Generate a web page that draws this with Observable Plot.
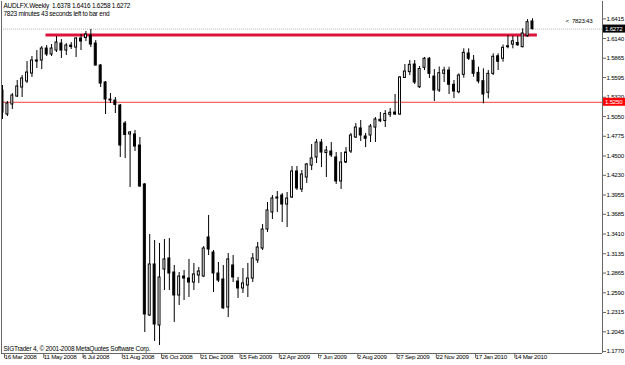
<!DOCTYPE html>
<html><head><meta charset="utf-8">
<script src="https://cdn.jsdelivr.net/npm/d3@7"></script>
<script src="https://cdn.jsdelivr.net/npm/@observablehq/plot@0.6"></script>
<style>body{margin:0;background:#fff}svg text{white-space:pre;letter-spacing:-0.25px}svg text.big{letter-spacing:-0.1px}</style>
</head><body><div id="chart"></div>
<script>
// ---- data (weekly bars, first bar = week of 16 Mar 2008) ----
const symbol = "AUDLFX.Weekly";
const firstWeek = "2008-03-16";
const open = [1.5414,1.5079,1.5219,1.5330,1.5456,1.5540,1.5651,1.5819,1.5833,1.6000,
1.5917,1.5972,1.6070,1.5972,1.6042,1.6014,1.6140,1.6147,1.6182,1.6070,
1.5763,1.5526,1.5288,1.5274,1.5205,1.4953,1.4800,1.4800,1.4646,1.4102,
1.2273,1.2985,1.2133,1.2915,1.3069,1.2873,1.2552,1.2817,1.2789,1.2733,
1.2831,1.2817,1.3362,1.3152,1.2859,1.2775,1.2384,1.2971,1.2747,1.2650,
1.2692,1.2789,1.3041,1.3208,1.3473,1.3711,1.3906,1.3948,1.3822,1.3920,
1.4283,1.4032,1.4199,1.4367,1.4479,1.4688,1.4541,1.4562,1.4479,1.4144,
1.4409,1.4562,1.4758,1.4884,1.4772,1.4786,1.4897,1.5005,1.4988,1.5075,
1.5107,1.5079,1.5589,1.5670,1.5777,1.5460,1.5731,1.5857,1.5609,1.5414,
1.5647,1.5693,1.5494,1.5390,1.5633,1.5931,1.5829,1.5661,1.5544,1.5382,
1.5647,1.5892,1.5857,1.6032,1.6056,1.6077,1.6019,1.6172,1.6378];
const high = [1.5484,1.5260,1.5372,1.5554,1.5623,1.5819,1.5889,1.5972,1.6028,1.6042,
1.6056,1.6168,1.6126,1.6070,1.6084,1.6154,1.6196,1.6238,1.6266,1.6112,
1.5777,1.5540,1.5372,1.5316,1.5219,1.4981,1.4842,1.4856,1.4758,1.4116,
1.3404,1.3320,1.3278,1.3334,1.3348,1.2971,1.2873,1.2901,1.3055,1.2999,
1.2943,1.3236,1.3669,1.3180,1.3013,1.2971,1.3138,1.3110,1.2803,1.2929,
1.2999,1.3138,1.3292,1.3543,1.3850,1.3948,1.4004,1.3976,1.3990,1.4353,
1.4353,1.4297,1.4395,1.4660,1.4730,1.4730,1.4632,1.4688,1.4548,1.4548,
1.4618,1.4814,1.4953,1.4995,1.4814,1.4939,1.5037,1.5107,1.5135,1.5163,
1.5358,1.5609,1.5777,1.5833,1.5833,1.5749,1.5875,1.5875,1.5707,1.5742,
1.5739,1.5739,1.5554,1.5647,1.5996,1.5996,1.5903,1.5739,1.5717,1.5693,
1.5926,1.5926,1.6049,1.6182,1.6172,1.6171,1.6275,1.6405,1.6416];
const low = [1.5009,1.5051,1.5149,1.5316,1.5316,1.5512,1.5596,1.5721,1.5707,1.5889,
1.5889,1.5945,1.5861,1.5903,1.5986,1.5875,1.5972,1.6098,1.6014,1.5756,
1.5456,1.5079,1.5233,1.5093,1.4479,1.4465,1.4060,1.4562,1.4060,1.2035,
1.2259,1.1910,1.1854,1.2622,1.2622,1.2175,1.2412,1.2482,1.2524,1.2622,
1.2720,1.2803,1.3110,1.2594,1.2733,1.2360,1.2245,1.2733,1.2510,1.2580,
1.2524,1.2733,1.2999,1.3180,1.3432,1.3613,1.3711,1.3571,1.3501,1.3906,
1.4018,1.3990,1.4116,1.4297,1.4395,1.4339,1.4199,1.4479,1.4102,1.4032,
1.4395,1.4534,1.4744,1.4702,1.4618,1.4688,1.4688,1.4967,1.4897,1.5037,
1.5065,1.5065,1.5582,1.5623,1.5498,1.5442,1.5693,1.5582,1.5260,1.5386,
1.5526,1.5358,1.5302,1.5368,1.5586,1.5833,1.5600,1.5508,1.5228,1.5298,
1.5623,1.5693,1.5809,1.5996,1.5996,1.6031,1.6010,1.6158,1.6258];
const close = [1.5107,1.5233,1.5344,1.5470,1.5582,1.5665,1.5833,1.5833,1.6000,1.5917,
1.6000,1.6084,1.5972,1.6042,1.6021,1.6140,1.6098,1.6196,1.6056,1.5763,
1.5512,1.5288,1.5274,1.5212,1.4646,1.4793,1.4828,1.4632,1.4074,1.2287,
1.2985,1.2147,1.2803,1.3055,1.2859,1.2552,1.2817,1.2789,1.2733,1.2845,
1.2887,1.3208,1.3194,1.2859,1.2761,1.2371,1.3055,1.2803,1.2650,1.2720,
1.2789,1.3069,1.3222,1.3473,1.3739,1.3906,1.3920,1.3822,1.3906,1.4283,
1.4046,1.4241,1.4381,1.4465,1.4688,1.4548,1.4576,1.4507,1.4144,1.4409,
1.4548,1.4786,1.4897,1.4786,1.4740,1.4911,1.5009,1.4985,1.5086,1.5103,
1.5079,1.5596,1.5679,1.5773,1.5526,1.5714,1.5857,1.5647,1.5414,1.5656,
1.5693,1.5494,1.5400,1.5623,1.5940,1.5857,1.5647,1.5540,1.5358,1.5647,
1.5885,1.5815,1.6010,1.6019,1.6101,1.6046,1.6210,1.6368,1.6272];

const yTicks = [1.6415,1.6140,1.5865,1.5595,1.5320,1.5050,1.4775,1.4500,1.4230,1.3955,
1.3685,1.3410,1.3135,1.2865,1.2590,1.2315,1.2045,1.1770];
const xTickLabels = ["16 Mar 2008","11 May 2008","6 Jul 2008","31 Aug 2008","26 Oct 2008",
"21 Dec 2008","15 Feb 2009","12 Apr 2009","7 Jun 2009","2 Aug 2009","27 Sep 2009",
"22 Nov 2009","17 Jan 2010","14 Mar 2010"];

const bidLevel = 1.6272;          // current price line (gray dotted, black label)
const supportLevel = 1.5250;      // thin red horizontal line (red label)
const trendLevel = 1.6190;        // thick crimson line
const trendFrom = "2008-05-17", trendTo = "2010-04-18";
const headerLine2 = "7823 minutes 43 seconds left to bar end";
const timerText = "<  7823:43";
const copyright = "SIGTrader 4, \u00a9 2001-2008 MetaQuotes Software Corp.";

// ---- build table ----
const WEEK = 7 * 864e5;
const t0 = Date.parse(firstWeek + "T00:00:00Z");
const bars = open.map((o, i) => ({date: new Date(t0 + i * WEEK), open: o, high: high[i], low: low[i], close: close[i]}));
const up = bars.filter(d => d.close >= d.open);
const down = bars.filter(d => d.close < d.open);
const half = 0.2 * WEEK;
const parseTick = d3.utcParse("%d %b %Y");
const xTicks = xTickLabels.map(parseTick);
const fmt = d3.utcFormat("%-d %b %Y");
const xDomain = [new Date(t0 - 0.204 * WEEK), new Date(t0 + 122.27 * WEEK)];
const last = bars[bars.length - 1];
const header = `${symbol}  ${last.open.toFixed(4)} ${last.high.toFixed(4)} ${last.low.toFixed(4)} ${last.close.toFixed(4)}`;
const FONT = "'Liberation Sans', Arial, sans-serif";
const FS = "6.2px";
const big = {fontSize: 6.5, className: "big", textAnchor: "start"};

const plot = Plot.plot({
  width: 625, height: 365,
  marginLeft: 1, marginRight: 23, marginTop: 1, marginBottom: 12,
  x: {type: "utc", domain: xDomain},
  y: {domain: [1.1742, 1.6657]},
  style: {fontFamily: FONT, fontSize: FS, background: "white", color: "black"},
  marks: [
    Plot.ruleY([bidLevel], {stroke: "#b8b8b8", strokeDasharray: "1,1"}),
    Plot.ruleY([supportLevel], {stroke: "#f03c3c", strokeWidth: 1}),
    Plot.ruleY([trendLevel], {x1: () => new Date(trendFrom), x2: () => new Date(trendTo), stroke: "#dc143c", strokeWidth: 3}),
    Plot.ruleX(bars, {x: "date", y1: "low", y2: "high", stroke: "black", strokeWidth: 1, clip: true}),
    Plot.rect(up, {x1: d => new Date(+d.date - half), x2: d => new Date(+d.date + half), y1: "open", y2: "close", fill: "white", stroke: "black", strokeWidth: 1, clip: true}),
    Plot.rect(down, {x1: d => new Date(+d.date - half), x2: d => new Date(+d.date + half), y1: "open", y2: "close", fill: "black", stroke: "black", strokeWidth: 1, clip: true}),
    Plot.ruleX([xDomain[0], xDomain[1]], {stroke: "#666"}),
    Plot.ruleY([1.1742], {stroke: "#666"}),
    Plot.axisY(yTicks, {anchor: "right", tickSize: 3, tickPadding: 1, tickFormat: d => d.toFixed(4), stroke: "#666"}),
    Plot.axisX(xTicks, {anchor: "bottom", tickSize: 5, tickPadding: -4, tickFormat: fmt, textAnchor: "start", dx: 2, stroke: "#666"}),
    Plot.text([header], {...big, frameAnchor: "top-left", dx: 2, dy: 2, text: d => d, lineAnchor: "top"}),
    Plot.text([headerLine2], {...big, frameAnchor: "top-left", dx: 2, dy: 10, text: d => d, lineAnchor: "top"}),
    Plot.text([timerText], {frameAnchor: "top-right", dx: -10, dy: 17, text: d => d, textAnchor: "end", lineAnchor: "top"}),
    Plot.text([copyright], {...big, frameAnchor: "bottom-left", dx: 2, dy: -3, text: d => d, lineAnchor: "bottom"})
  ]
});
document.getElementById("chart").appendChild(plot);

// price boxes on the right axis, positioned through the plot's y scale
const ys = plot.scale("y");
const svg = d3.select(plot);
[[bidLevel, "black"], [supportLevel, "#ff0000"]].forEach(([v, col]) => {
  const yy = ys.apply(v);
  svg.append("rect").attr("x", 603).attr("y", yy - 4).attr("width", 22).attr("height", 8).attr("fill", col);
  svg.append("text").attr("x", 605).attr("y", yy + 2.3).attr("fill", "white")
    .attr("text-anchor", "start").attr("font-size", FS).attr("font-family", FONT).text(v.toFixed(4));
});
</script></body></html>
